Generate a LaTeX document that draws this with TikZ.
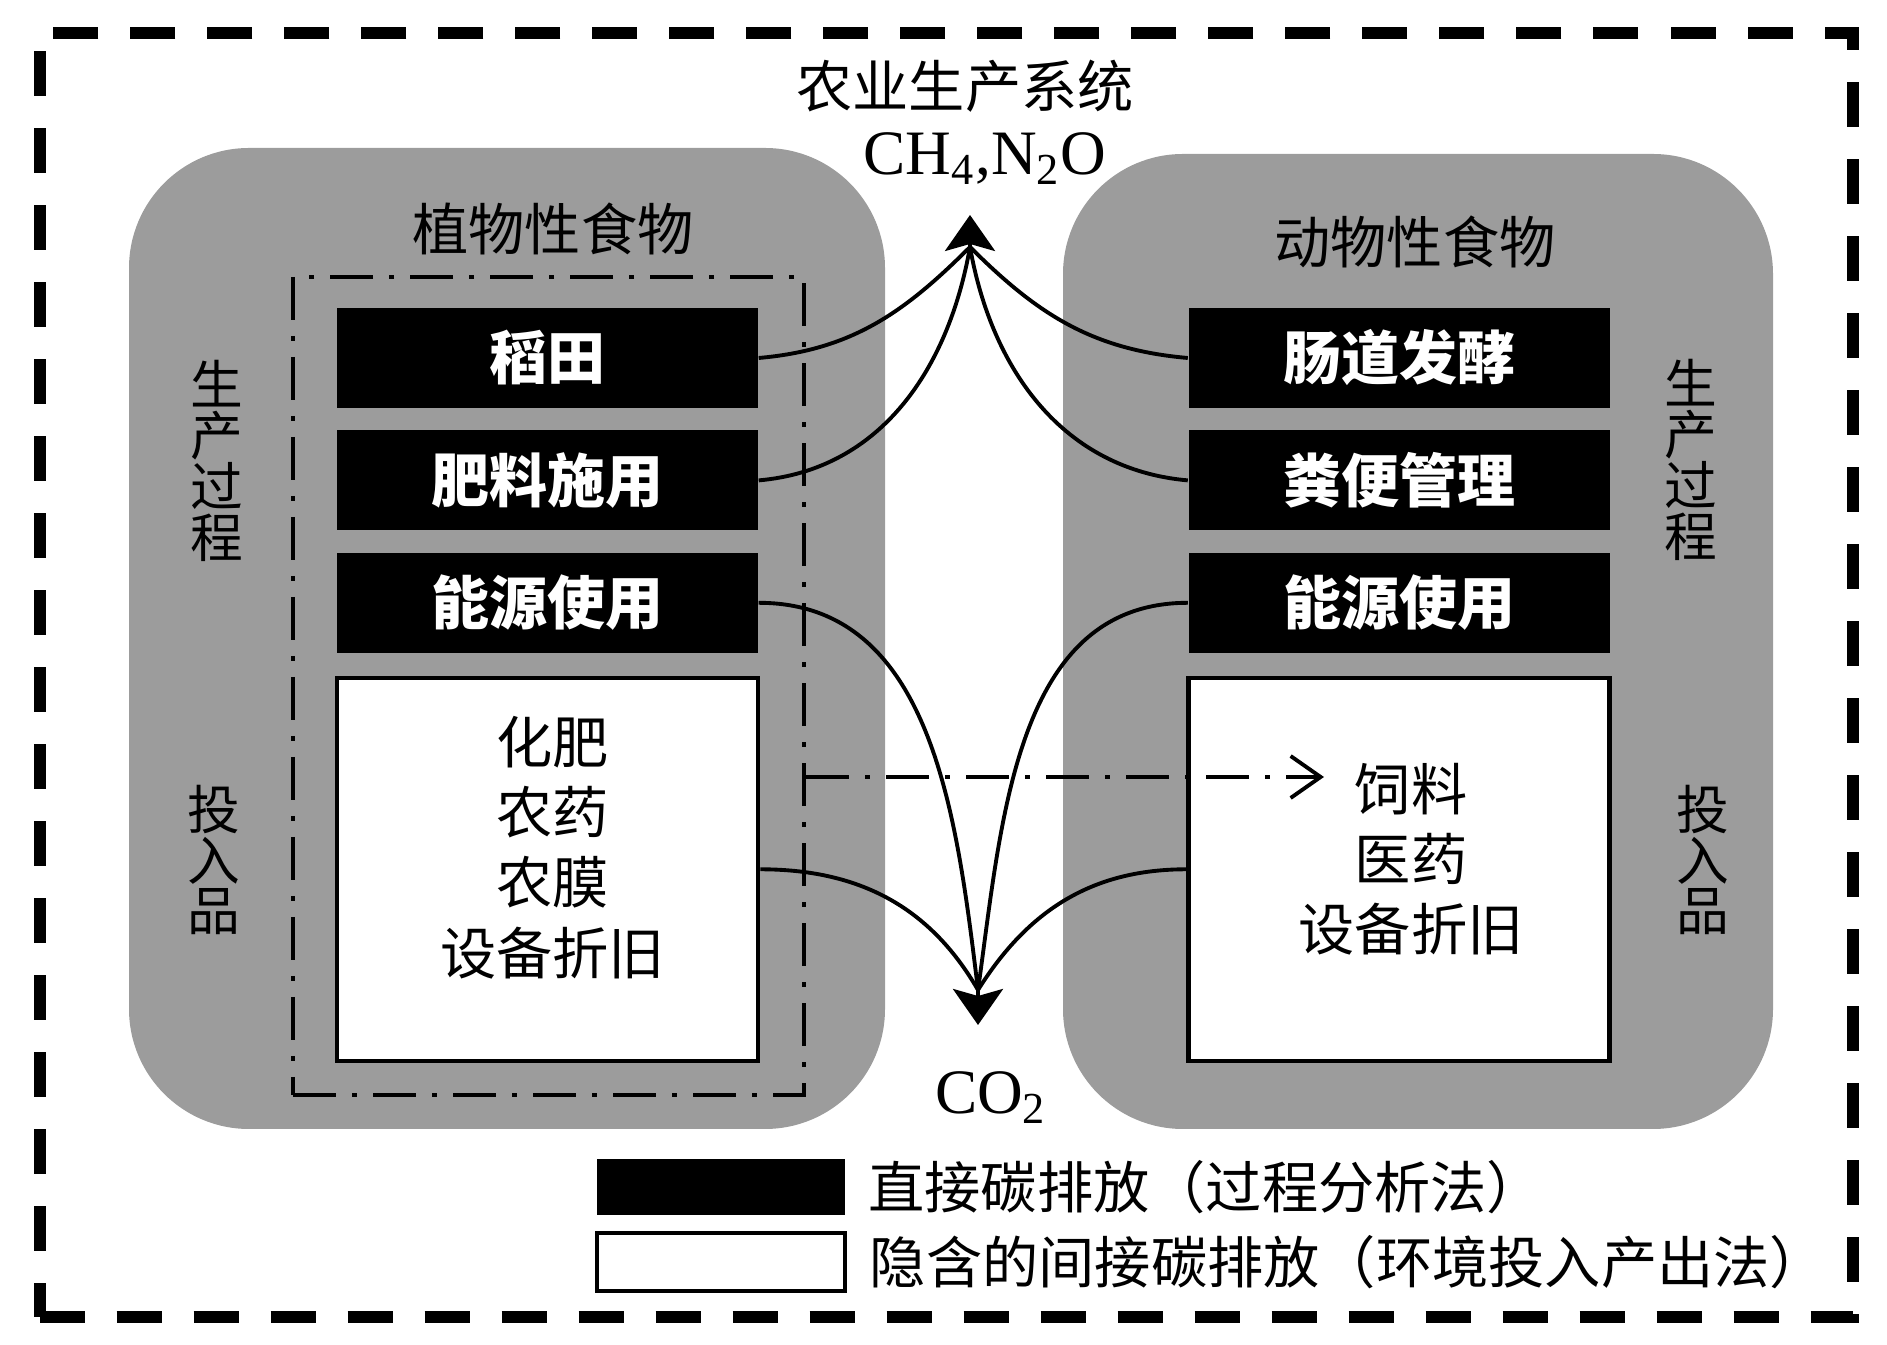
\documentclass[tikz,border=0pt]{standalone}
\usepackage{fontspec}
\setmainfont{Liberation Serif}
\newfontfamily\cjk{Noto Sans CJK SC}
\usepackage{tikz}
\usetikzlibrary{arrows.meta, positioning}

\begin{document}
\begin{tikzpicture}[node distance=0.21cm and 0.85cm]
  \colorlet{groupcol}{black!39}
  \tikzset{
    outerframe/.style={rectangle, draw=black, line width=0.12cm,
      dash pattern=on 0.45cm off 0.32cm},
    group/.style={rectangle, rounded corners=1.2cm, fill=groupcol},
    scopebox/.style={rectangle, draw=black, line width=1.4pt,
      dash pattern=on 0.43cm off 0.16cm on 0.05cm off 0.16cm},
    emit/.style={rectangle, fill=black, text=white, inner sep=0pt,
      minimum width=4.21cm, minimum height=1.0cm,
      font=\cjk\bfseries\fontsize{16.5}{18}\selectfont},
    embodied/.style={rectangle, fill=white, draw=black, line width=1.3pt,
      minimum width=4.21cm, minimum height=3.83cm},
    listtext/.style={align=center, font=\cjk\fontsize{16}{20}\selectfont},
    caption/.style={font=\cjk\fontsize{16}{18}\selectfont},
    vtext/.style={align=center, font=\cjk\fontsize{15}{14.5}\selectfont},
    gas/.style={font=\fontsize{18}{20}\selectfont, anchor=base},
    keytext/.style={inner sep=0pt, anchor=west, font=\cjk\fontsize{16}{18}\selectfont},
    arr/.style={line width=1.1pt},
    bigtip/.style={-{Stealth[length=0.36cm, width=0.5cm, inset=0.07cm]}, line width=1.1pt},
    flow/.style={-{Straight Barb[length=0.3cm, width=0.42cm]}, line width=1.1pt,
      dash pattern=on 0.43cm off 0.16cm on 0.05cm off 0.16cm}
  }
  \useasboundingbox (0,0) rectangle (18.87,13.45);
  \node[outerframe, minimum width=18.13cm, minimum height=12.84cm] (sysframe) at (9.46,6.70) {};
  \node[group, minimum width=7.56cm, minimum height=9.81cm] (plantbg) at (5.07,7.065) {};
  \node[group, minimum width=7.10cm, minimum height=9.75cm] (animalbg) at (14.18,7.035) {};
  \node[scopebox, minimum width=5.11cm, minimum height=8.18cm] (plantsys) at (5.485,6.59) {};
  \node[caption] (system) at (9.65,12.59) {农业生产系统};
  \node[caption] (plantttl) at (5.53,11.16) {植物性食物};
  \node[caption] (animalttl) at (14.15,11.03) {动物性食物};
  \node[gas] (ghg) at (9.85,11.70) {CH\textsubscript{4},N\textsubscript{2}O};
  \node[gas] (co2) at (9.91,2.31) {CO\textsubscript{2}};
  % plant-based food
  \node[emit] (rice) at (5.475,9.87) {稻田};
  \node[emit, below=of rice] (fert) {肥料施用};
  \node[emit, below=of fert] (energyp) {能源使用};
  \node[embodied, below=0.22cm of energyp] (inputp) {};
  \node[listtext] (inputptxt) at ([xshift=0.05cm, yshift=0.22cm]inputp.center) {化肥\\农药\\农膜\\设备折旧};
  % animal-based food
  \node[emit] (enteric) at (13.99,9.87) {肠道发酵};
  \node[emit, below=of enteric] (manure) {粪便管理};
  \node[emit, below=of manure] (energya) {能源使用};
  \node[embodied, below=0.22cm of energya] (inputa) {};
  \node[listtext] (inputatxt) at ([xshift=0.12cm, yshift=0.1cm]inputa.center) {饲料\\医药\\设备折旧};
  \node[vtext] (procp) at (2.17,8.84) {生\\产\\过\\程};
  \node[vtext] (inp) at (2.14,4.85) {投\\入\\品};
  \node[vtext] (proca) at (16.91,8.85) {生\\产\\过\\程};
  \node[vtext] (ina) at (17.03,4.85) {投\\入\\品};
  \coordinate (ghgtip) at (9.70,11.30);
  \coordinate (ghgbase) at (9.70,10.98);
  \coordinate (co2tip) at (9.78,3.20);
  \coordinate (co2base) at (9.78,3.55);
  \coordinate (feedin) at (13.24,5.68);
  \draw[arr] (rice.east) to[out=5, in=-135] (ghgbase);
  \draw[arr] (fert.east) to[out=5, in=-100] (ghgbase);
  \draw[arr] (enteric.west) to[out=175, in=-45] (ghgbase);
  \draw[arr] (manure.west) to[out=175, in=-80] (ghgbase);
  \draw[bigtip] (ghgbase) -- (ghgtip);
  \draw[arr] (energyp.east) to[out=0, in=97] (co2base);
  \draw[arr] (inputp.east) to[out=0, in=120] (co2base);
  \draw[arr] (energya.west) to[out=180, in=82] (co2base);
  \draw[arr] (inputa.west) to[out=180, in=58] (co2base);
  \draw[bigtip] (co2base) -- (co2tip);
  \draw[flow] (plantsys.east |- feedin) -- (feedin);
  % legend
  \node[fill=black, minimum width=2.48cm, minimum height=0.56cm] (keydirect) at (7.21,1.58) {};
  \node[draw=black, line width=1.3pt, fill=white, minimum width=2.48cm, minimum height=0.58cm] (keyindirect) at (7.21,0.83) {};
  \node[keytext, right=0.22cm of keydirect] (directtxt) {直接碳排放（过程分析法）};
  \node[keytext, right=0.22cm of keyindirect] (indirecttxt) {隐含的间接碳排放（环境投入产出法）};
\end{tikzpicture}
\end{document}
